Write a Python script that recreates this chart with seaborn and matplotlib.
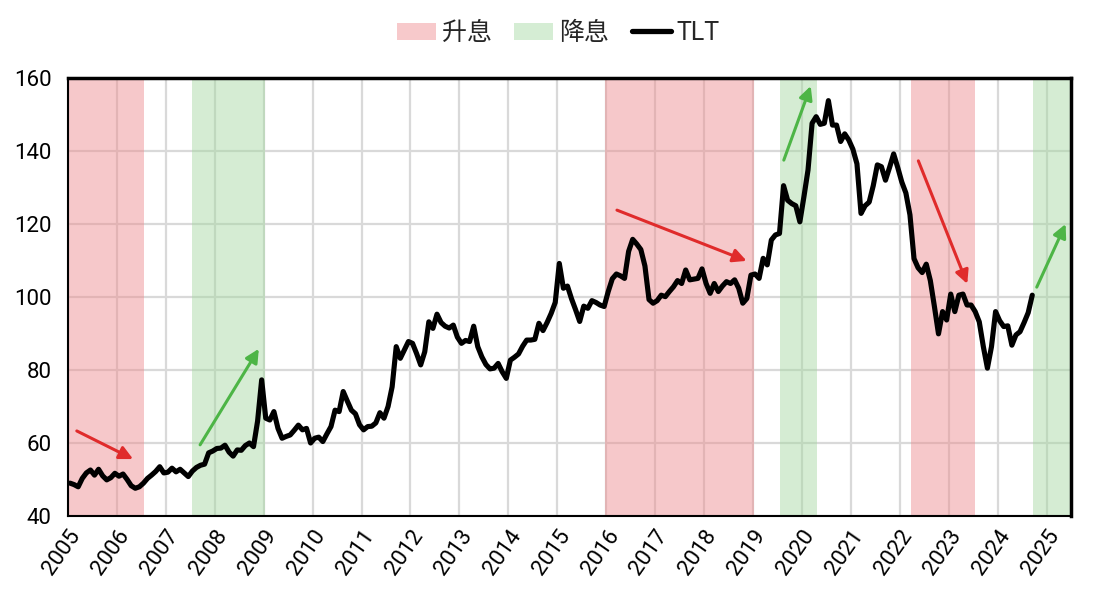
import numpy as np
import pandas as pd
import matplotlib
matplotlib.use("Agg")
import matplotlib.pyplot as plt
import seaborn as sns
from matplotlib.patches import Patch
from matplotlib.lines import Line2D

# ---------------- data ----------------
start_month = "2005-01"
tlt_2005 = [49.0, 48.6, 48.0, 50.3, 51.8, 52.6, 51.2, 52.8, 51.0, 49.9, 50.5, 51.7]
tlt_2006 = [50.9, 51.5, 50.0, 48.3, 47.6, 48.0, 49.0, 50.3, 51.2, 52.2, 53.5, 51.8]
tlt_2007 = [52.0, 53.1, 52.1, 52.8, 51.8, 50.8, 52.3, 53.3, 53.9, 54.2, 57.3, 57.8]
tlt_2008 = [58.5, 58.6, 59.4, 57.5, 56.4, 58.1, 58.0, 59.3, 60.0, 59.0, 66.0, 77.3]
tlt_2009 = [66.8, 66.3, 68.6, 64.0, 61.3, 61.8, 62.2, 63.5, 64.9, 63.6, 64.0, 60.0]
tlt_2010 = [61.3, 61.6, 60.4, 62.5, 64.5, 69.0, 68.6, 74.1, 71.5, 69.0, 68.0, 65.0]
tlt_2011 = [63.6, 64.5, 64.6, 65.5, 68.3, 66.8, 70.0, 75.4, 86.4, 83.2, 85.5, 87.8]
tlt_2012 = [87.3, 84.5, 81.4, 85.0, 93.2, 91.4, 95.3, 93.0, 92.0, 91.5, 92.3, 89.0]
tlt_2013 = [87.3, 88.1, 87.8, 92.0, 86.4, 83.6, 81.5, 80.3, 80.5, 81.8, 79.5, 77.7]
tlt_2014 = [82.7, 83.5, 84.4, 86.5, 88.2, 88.2, 88.4, 92.8, 90.8, 93.0, 95.5, 98.5]
tlt_2015 = [109.2, 102.4, 103.0, 99.5, 96.5, 93.3, 97.5, 96.9, 99.0, 98.5, 97.8, 97.4]
tlt_2016 = [101.5, 105.0, 106.3, 105.8, 105.1, 112.5, 115.8, 114.5, 113.0, 108.5, 99.3, 98.3]
tlt_2017 = [99.0, 100.5, 100.1, 101.5, 102.8, 104.5, 103.7, 107.4, 104.7, 104.9, 105.1, 107.7]
tlt_2018 = [103.7, 101.0, 103.7, 101.5, 103.0, 104.2, 103.7, 104.7, 102.4, 98.3, 99.6, 106.0]
tlt_2019 = [106.3, 105.1, 110.6, 108.8, 115.6, 117.0, 117.4, 130.5, 126.5, 125.6, 125.0, 120.6]
tlt_2020 = [127.5, 134.8, 147.6, 149.4, 147.3, 147.6, 153.8, 147.1, 147.1, 142.6, 144.7, 143.0]
tlt_2021 = [140.5, 136.5, 122.9, 125.0, 126.0, 130.5, 136.2, 135.7, 132.0, 135.5, 139.2, 135.5]
tlt_2022 = [131.5, 128.5, 122.5, 110.5, 108.0, 106.7, 109.0, 104.5, 97.4, 89.9, 96.0, 93.7]
tlt_2023 = [100.8, 96.0, 100.5, 100.8, 97.8, 97.8, 96.0, 93.2, 86.4, 80.5, 86.4, 96.0]
tlt_2024 = [93.5, 91.9, 92.1, 86.8, 89.6, 90.5, 93.0, 95.7, 100.5]

hike_periods = [(2005.0, 2006.55), (2015.97, 2019.03), (2022.22, 2023.54)]
cut_periods = [(2007.54, 2009.03), (2019.55, 2020.30), (2024.72, 2025.5)]
hike_arrows = [((2005.18, 63.3), (2006.33, 55.6)),
               ((2016.22, 123.8), (2018.87, 109.9)),
               ((2022.38, 137.3), (2023.38, 103.6))]
cut_arrows = [((2007.70, 59.5), (2008.90, 85.8)),
              ((2019.63, 137.5), (2020.18, 157.8)),
              ((2024.80, 102.7), (2025.39, 120.0))]
year_ticks = list(range(2005, 2026))
y_ticks = [40, 60, 80, 100, 120, 140, 160]
legend_labels = ["升息", "降息", "TLT"]

# ---------------- build frame ----------------
values = (tlt_2005 + tlt_2006 + tlt_2007 + tlt_2008 + tlt_2009 + tlt_2010 + tlt_2011
          + tlt_2012 + tlt_2013 + tlt_2014 + tlt_2015 + tlt_2016 + tlt_2017 + tlt_2018
          + tlt_2019 + tlt_2020 + tlt_2021 + tlt_2022 + tlt_2023 + tlt_2024)
dates = pd.period_range(start=start_month, periods=len(values), freq="M")
frac_year = np.array([d.year + (d.month - 0.5) / 12 for d in dates])
df = pd.DataFrame({"year": frac_year, "TLT": values})

# ---------------- style ----------------
sns.set_theme(style="white")
plt.rcParams["font.family"] = ["Roboto", "Noto Sans CJK SC", "DejaVu Sans"]

RED_SPAN = "#ED878B"
GREEN_SPAN = "#A2D79F"
RED_ARROW = "#E02B2B"
GREEN_ARROW = "#4DB546"

fig = plt.figure(figsize=(11.1, 5.94), dpi=100)
ax = fig.add_axes([68 / 1110, 1 - 516 / 594, (1071 - 68) / 1110, (516 - 78) / 594])

ax.set_xlim(2005, 2025.5)
ax.set_ylim(40, 160)
ax.set_xticks(year_ticks)
ax.set_yticks(y_ticks)
ax.grid(True, color="#D9D9D9", linewidth=1.6, zorder=0)
ax.set_axisbelow(True)

for a, b in hike_periods:
    ax.axvspan(a, b, color=RED_SPAN, alpha=0.45, lw=0, zorder=1)
for a, b in cut_periods:
    ax.axvspan(a, b, color=GREEN_SPAN, alpha=0.45, lw=0, zorder=1)

sns.lineplot(data=df, x="year", y="TLT", ax=ax, color="black", linewidth=3.7, zorder=3)

for (s, e) in hike_arrows:
    ax.annotate("", xy=e, xytext=s,
                arrowprops=dict(arrowstyle="-|>", color=RED_ARROW, lw=2.2,
                                mutation_scale=20, shrinkA=0, shrinkB=0), zorder=4)
for (s, e) in cut_arrows:
    ax.annotate("", xy=e, xytext=s,
                arrowprops=dict(arrowstyle="-|>", color=GREEN_ARROW, lw=2.2,
                                mutation_scale=20, shrinkA=0, shrinkB=0), zorder=4)

ax.set_xlabel("")
ax.set_ylabel("")
ax.set_xticklabels([str(y) for y in year_ticks], rotation=55, ha="right",
                   rotation_mode="anchor", fontsize=16)
ax.set_yticklabels([str(v) for v in y_ticks], fontsize=16)
ax.tick_params(axis="y", length=0, pad=12, colors="black")
ax.tick_params(axis="x", length=0, pad=7, colors="black")

for side in ["top", "right"]:
    ax.spines[side].set_color("black")
    ax.spines[side].set_linewidth(2.5)
for side in ["left", "bottom"]:
    ax.spines[side].set_color("black")
    ax.spines[side].set_linewidth(1.5)

handles = [Patch(facecolor="#F7C9CB", edgecolor="none"),
           Patch(facecolor="#D5EDD4", edgecolor="none"),
           Line2D([0], [0], color="black", linewidth=3.8)]
fig.legend(handles, legend_labels, loc="center", bbox_to_anchor=(0.503, 1 - 33 / 594),
           ncol=3, frameon=False, fontsize=18, handlelength=1.55, handleheight=0.7,
           columnspacing=0.9, handletextpad=0.25)

fig.savefig("out.png", dpi=100)
